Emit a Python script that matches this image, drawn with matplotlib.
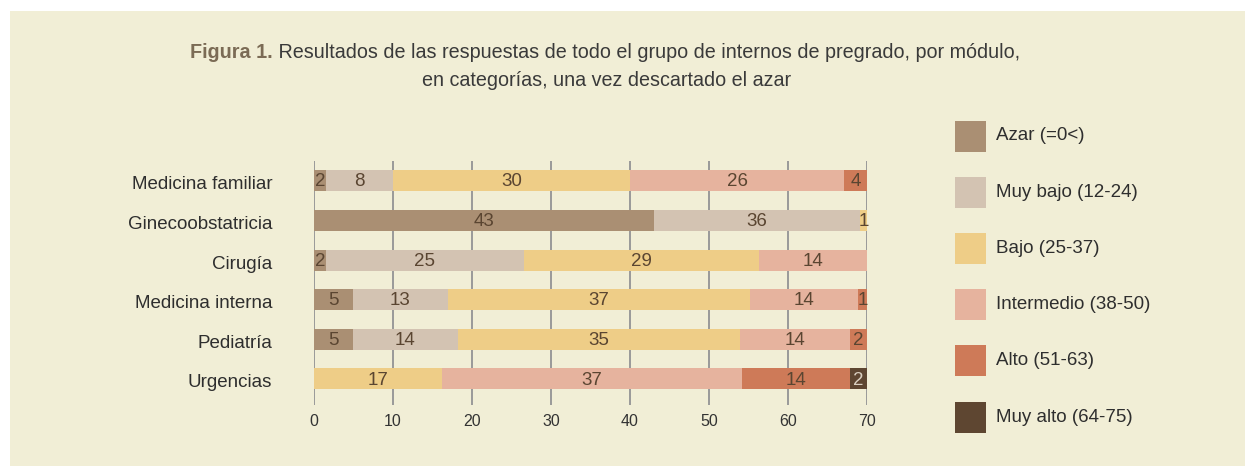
import matplotlib.pyplot as plt
from matplotlib.patches import Rectangle

plt.rcParams['font.family'] = ['Liberation Sans', 'DejaVu Sans']

# modules (rows, top to bottom)
modules = ['Medicina familiar', 'Ginecoobstatricia', 'Cirugía',
           'Medicina interna', 'Pediatría', 'Urgencias']

# categories and colours
categories = ['Azar (=0<)', 'Muy bajo (12-24)', 'Bajo (25-37)',
              'Intermedio (38-50)', 'Alto (51-63)', 'Muy alto (64-75)']
colors = ['#aa8f73', '#d3c3b2', '#eecd87', '#e6b39e', '#ce7a58', '#5e4631']

# segment lengths as drawn in the figure
azar_w = [1.5, 43.0, 1.5, 4.9, 4.9, 0]
muy_bajo_w = [8.5, 26.1, 25.1, 12.0, 13.3, 0]
bajo_w = [30.0, 0.9, 29.7, 38.3, 35.7, 16.2]
intermedio_w = [27.1, 0, 13.7, 13.7, 13.9, 38.0]
alto_w = [2.9, 0, 0, 1.1, 2.2, 13.6]
muy_alto_w = [0, 0, 0, 0, 0, 2.2]

# numbers printed on the segments
azar_lbl = [2, 43, 2, 5, 5, None]
muy_bajo_lbl = [8, 36, 25, 13, 14, None]
bajo_lbl = [30, 1, 29, 37, 35, 17]
intermedio_lbl = [26, None, 14, 14, 14, 37]
alto_lbl = [4, None, None, 1, 2, 14]
muy_alto_lbl = [None, None, None, None, None, 2]

widths = [azar_w, muy_bajo_w, bajo_w, intermedio_w, alto_w, muy_alto_w]
labels = [azar_lbl, muy_bajo_lbl, bajo_lbl, intermedio_lbl, alto_lbl, muy_alto_lbl]
xticks = [0, 10, 20, 30, 40, 50, 60, 70]

W, H = 1245, 466
bg = '#f1eed6'
fig = plt.figure(figsize=(W / 100, H / 100), dpi=100)
fig.patch.set_facecolor('white')
fig.patches.append(Rectangle((10 / W, 0), 1, (H - 11) / H, transform=fig.transFigure,
                             facecolor=bg, edgecolor='none', zorder=-10))

ax = fig.add_axes([314 / W, (H - 405) / H, 553 / W, 244 / H])
ax.set_facecolor('none')

rows = list(range(len(modules)))
left = [0] * len(modules)
for k in range(len(categories)):
    ax.barh(rows, widths[k], left=left, height=0.53, color=colors[k],
            edgecolor='none', zorder=2)
    for i in rows:
        if labels[k][i] is not None:
            tc = '#d9cfc0' if k == 5 else '#5a4531'
            ax.text(left[i] + widths[k][i] / 2, i + 0.03, str(labels[k][i]),
                    ha='center', va='center', fontsize=13.5, color=tc, zorder=3)
    left = [a + b for a, b in zip(left, widths[k])]

ax.set_xlim(0, 70)
ax.set_ylim(5.66, -0.5)
ax.set_xticks(xticks)
ax.set_yticks([r + 0.05 for r in rows])
ax.set_yticklabels(modules)
ax.grid(axis='x', color='#999999', linewidth=1.4, zorder=1)
ax.tick_params(axis='x', length=0, pad=6.5, labelsize=11.5, labelcolor='#333333')
ax.tick_params(axis='y', length=0, pad=30, labelsize=13.5, labelcolor='#2e2e2e')
for s in ax.spines.values():
    s.set_visible(False)

# title, bold lead-in followed by the normal text
t1 = fig.text(190 / W, 1 - 52 / H, 'Figura 1.', fontsize=14.25, fontweight='bold',
              color='#7b6b55', ha='left', va='center')
ax.annotate(' Resultados de las respuestas de todo el grupo de internos de pregrado, por módulo,',
            xy=(1, 0), xycoords=t1, ha='left', va='bottom', fontsize=14.25, color='#3a3a3a',
            annotation_clip=False)
fig.text(607 / W, 1 - 80 / H, 'en categorías, una vez descartado el azar',
         fontsize=14.25, color='#3a3a3a', ha='center', va='center')

# legend
for k, (cat, col) in enumerate(zip(categories, colors)):
    yc = 136 + 56.2 * k
    fig.patches.append(Rectangle((955 / W, 1 - (yc + 15.5) / H), 31 / W, 31 / H,
                                 transform=fig.transFigure, facecolor=col,
                                 edgecolor='none'))
    fig.text(996 / W, 1 - yc / H, cat, fontsize=13.5, color='#2e2e2e',
             ha='left', va='center')

fig.savefig('out.png', dpi=100, facecolor=fig.get_facecolor())
